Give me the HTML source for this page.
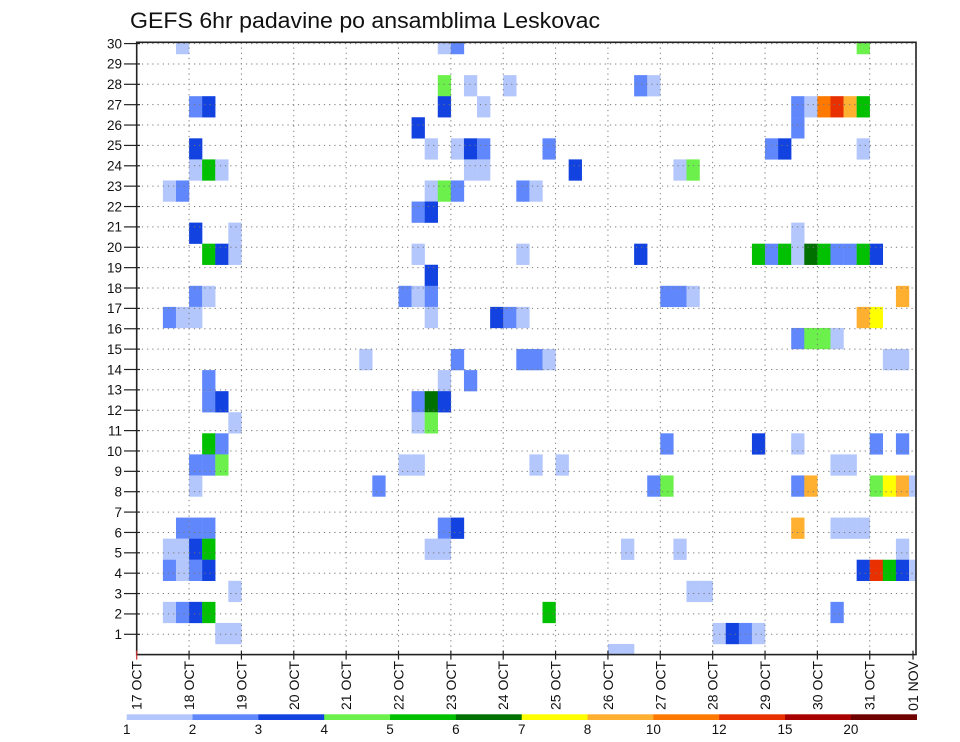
<!DOCTYPE html>
<html><head><meta charset="utf-8"><title>GEFS 6hr padavine po ansamblima Leskovac</title>
<style>
html,body{margin:0;padding:0;background:#fff;}
svg{display:block;font-family:"Liberation Sans","DejaVu Sans",sans-serif;}
</style></head>
<body>
<svg id="chart" width="960" height="742" viewBox="0 0 960 742" xmlns="http://www.w3.org/2000/svg">
<text x="130" y="28" font-size="22" textLength="470" lengthAdjust="spacingAndGlyphs" fill="#111">GEFS 6hr padavine po ansamblima Leskovac</text>
<defs><clipPath id="plotclip"><rect x="136.7" y="42.3" width="779.3" height="612.3"/></clipPath></defs>
<g id="cells" clip-path="url(#plotclip)"></g>
<g id="grid"></g>
<rect x="136.7" y="42.3" width="779.3" height="612.3" fill="none" stroke="#222" stroke-width="1.6"/>
<g id="axes"></g>
<g id="legend"></g>
</svg>
<script>
// ---- data ----
const dateLabels = ["17 OCT","18 OCT","19 OCT","20 OCT","21 OCT","22 OCT","23 OCT","24 OCT","25 OCT","26 OCT","27 OCT","28 OCT","29 OCT","30 OCT","31 OCT","01 NOV"];
const memberTicks = [1,2,3,4,5,6,7,8,9,10,11,12,13,14,15,16,17,18,19,20,21,22,23,24,25,26,27,28,29,30];
const levelBounds = [1,2,3,4,5,6,7,8,10,12,15,20];
const levelColors = ["#b4c7fc","#6088fc","#1242e0","#6cf04c","#00c000","#007000","#ffff00","#ffb030","#ff7800","#e83000","#a80000","#6e0000"];
// member rows: "step:value" entries (step = 6h step from 17 OCT 00Z)
const rowMembers = [29,27,26,25,24,23,22,21,20,19,18,17,16,15,14,13,12,11,10,9,8,6,5,4,3,2,1,0];
const rowValues = [
 "3:1.5 23:1.5 24:2.5 55:4.5",
 "23:4.5 25:1.5 28:1.5 38:2.5 39:1.5",
 "4:2.5 5:3.5 23:3.5 26:1.5 50:2.5 51:1.5 52:11 53:13.5 54:9 55:5.5",
 "21:3.5 50:2.5",
 "4:3.5 22:1.5 24:1.5 25:3.5 26:2.5 31:2.5 48:2.5 49:3.5 55:1.5",
 "4:1.5 5:5.5 6:1.5 25:1.5 26:1.5 33:3.5 41:1.5 42:4.5",
 "2:1.5 3:2.5 22:1.5 23:4.5 24:2.5 29:2.5 30:1.5",
 "21:2.5 22:3.5",
 "4:3.5 7:1.5 50:1.5",
 "5:5.5 6:3.5 7:1.5 21:1.5 29:1.5 38:3.5 47:5.5 48:2.5 49:5.5 50:1.5 51:6.5 52:5.5 53:2.5 54:2.5 55:5.5 56:3.5",
 "22:3.5",
 "4:2.5 5:1.5 20:2.5 21:1.5 22:2.5 40:2.5 41:2.5 42:1.5 58:9",
 "2:2.5 3:1.5 4:1.5 22:1.5 27:3.5 28:2.5 29:1.5 55:9 56:7.5",
 "50:2.5 51:4.5 52:4.5 53:1.5",
 "17:1.5 24:2.5 29:2.5 30:2.5 31:1.5 57:1.5 58:1.5",
 "5:2.5 23:1.5 25:2.5",
 "5:2.5 6:3.5 21:2.5 22:6.5 23:3.5",
 "7:1.5 21:1.5 22:4.5",
 "5:5.5 6:2.5 40:2.5 47:3.5 50:1.5 56:2.5 58:2.5",
 "4:2.5 5:2.5 6:4.5 20:1.5 21:1.5 30:1.5 32:1.5 53:1.5 54:1.5",
 "4:1.5 18:2.5 39:2.5 40:4.5 50:2.5 51:9 56:4.5 57:7.5 58:9 59:1.5",
 "3:2.5 4:2.5 5:2.5 23:2.5 24:3.5 50:9 53:1.5 54:1.5 55:1.5",
 "2:1.5 3:1.5 4:3.5 5:5.5 22:1.5 23:1.5 37:1.5 41:1.5 58:1.5",
 "2:2.5 3:1.5 4:2.5 5:3.5 55:3.5 56:13.5 57:5.5 58:3.5 59:1.5",
 "7:1.5 42:1.5 43:1.5",
 "2:1.5 3:2.5 4:3.5 5:5.5 31:5.5 53:2.5",
 "6:1.5 7:1.5 44:1.5 45:3.5 46:2.5 47:1.5",
 "36:1.5 37:1.5"
];

// ---- scales ----
const X0 = 136.7, DAYW = 52.36, STEPW = DAYW/4;
const xStep = s => X0 + s*STEPW;
const xDay = d => X0 + d*DAYW;
const CELLH = 21.07, CELLBASE = 644;
const yCellTop = k => CELLBASE - k*CELLH;
const yTick = v => 634.3 - (v-1)*20.37;
const PL = 136.7, PR = 916, PT = 42.3, PB = 654.6;
const NS = "http://www.w3.org/2000/svg";
function mk(tag, attrs){const e=document.createElementNS(NS,tag);for(const k in attrs)e.setAttribute(k,attrs[k]);return e;}
function colorFor(v){let c=-1;for(let j=0;j<levelBounds.length;j++){if(v>=levelBounds[j])c=j;}return c<0?null:levelColors[c];}

// ---- cells ----
const gC = document.getElementById('cells');
rowMembers.forEach((m, r) => {
  rowValues[r].split(' ').forEach(tok => {
    const [s, v] = tok.split(':').map(Number);
    const col = colorFor(v); if(!col) return;
    const rc = mk('rect', {x: xStep(s), y: yCellTop(m), width: STEPW+0.2, height: CELLH+0.2, fill: col});
    
    
    gC.appendChild(rc);
  });
});

// ---- grid ----
const gG = document.getElementById('grid');
memberTicks.forEach(v => {
  const y = yTick(v);
  if (y < PT+1) return;
  const ln = mk('line', {x1: PL, x2: PR, y1: y, y2: y, stroke: '#777', 'stroke-width': 1, 'stroke-dasharray': '1.2,4'});
  
  
  gG.appendChild(ln);
});
for (let d = 1; d < 15; d++) {
  const x = xDay(d);
  const ln = mk('line', {x1: x, x2: x, y1: PT, y2: PB, stroke: '#777', 'stroke-width': 1, 'stroke-dasharray': '1.2,4'});
  
  
  gG.appendChild(ln);
}

// ---- axes ----
const gA = document.getElementById('axes');
memberTicks.forEach(v => {
  const y = yTick(v);
  const t = mk('line', {x1: 124, x2: 140, y1: y, y2: y, stroke: '#222', 'stroke-width': 1.2});
  
  
  gA.appendChild(t);
  const tx = mk('text', {x: 122, y: y+4.8, 'font-size': 13.5, 'text-anchor': 'end', fill: '#111'});
  tx.textContent = v;
  
  
  gA.appendChild(tx);
});
dateLabels.forEach((lab, d) => {
  let x = xDay(d);
  if (d === 15) x = 913;
  const t = mk('line', {x1: x, x2: x, y1: PB-4, y2: PB+5, stroke: d===0 ? '#c33' : '#222', 'stroke-width': 1.2});
  
  
  gA.appendChild(t);
  const tx = mk('text', {x: 0, y: 0, 'font-size': 14, 'text-anchor': 'end', fill: '#111', transform: 'translate(' + (x+5) + ',661) rotate(-90)'});
  tx.textContent = lab;
  
  
  gA.appendChild(tx);
});

// ---- legend ----
const gL = document.getElementById('legend');
const LX0 = 126.7, LW = (916.7-126.7)/12;
levelColors.forEach((c, j) => {
  const r = mk('rect', {x: LX0 + j*LW, y: 714.3, width: LW+0.3, height: 5.7, fill: c});
  
  
  gL.appendChild(r);
});
levelBounds.forEach((b, j) => {
  const tx = mk('text', {x: LX0 + j*LW, y: 734, 'font-size': 13.5, 'text-anchor': 'middle', fill: '#111'});
  tx.textContent = b;
  
  
  gL.appendChild(tx);
});
</script>
</body></html>
